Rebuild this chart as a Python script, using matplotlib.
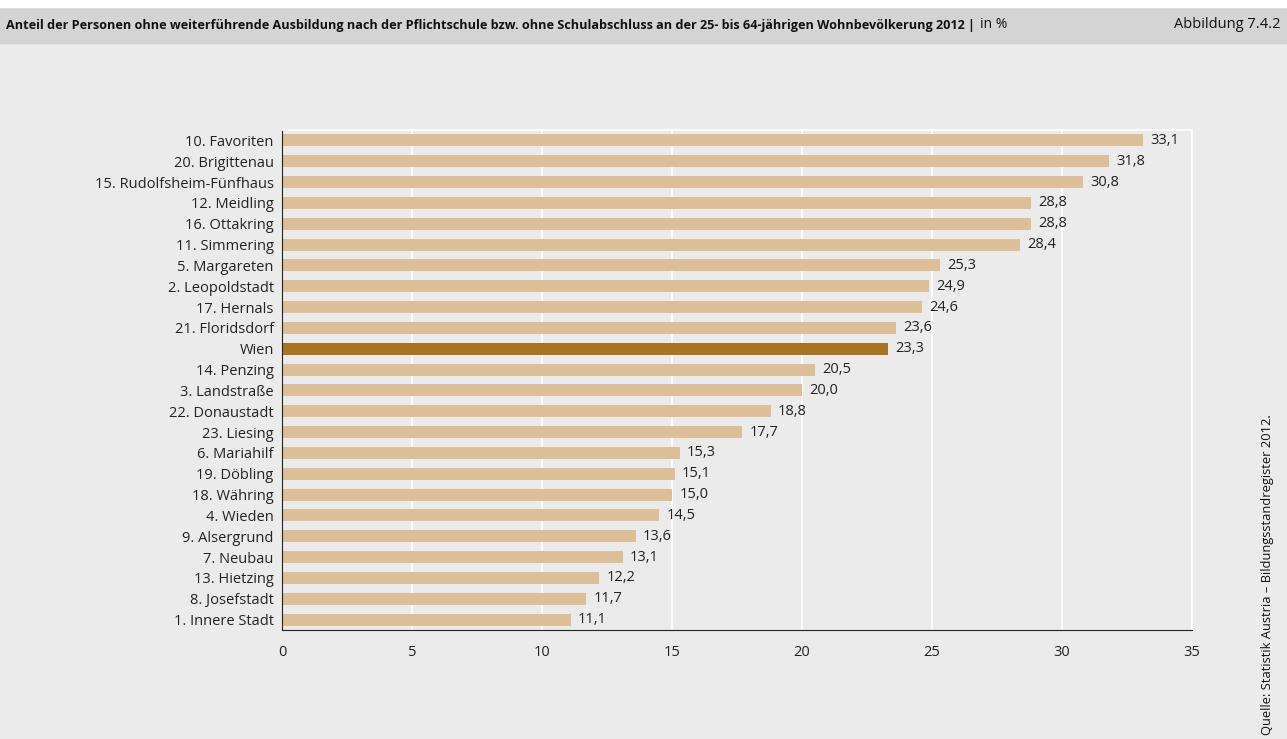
import matplotlib.pyplot as plt
from matplotlib import font_manager
from matplotlib.font_manager import FontProperties

# data
bezirke = ["10. Favoriten", "20. Brigittenau", "15. Rudolfsheim-Fünfhaus", "12. Meidling",
           "16. Ottakring", "11. Simmering", "5. Margareten", "2. Leopoldstadt",
           "17. Hernals", "21. Floridsdorf", "Wien", "14. Penzing", "3. Landstraße",
           "22. Donaustadt", "23. Liesing", "6. Mariahilf", "19. Döbling", "18. Währing",
           "4. Wieden", "9. Alsergrund", "7. Neubau", "13. Hietzing", "8. Josefstadt",
           "1. Innere Stadt"]
anteil = [33.1, 31.8, 30.8, 28.8, 28.8, 28.4, 25.3, 24.9, 24.6, 23.6, 23.3, 20.5, 20.0,
          18.8, 17.7, 15.3, 15.1, 15.0, 14.5, 13.6, 13.1, 12.2, 11.7, 11.1]
xticks = [0, 5, 10, 15, 20, 25, 30, 35]

titel = ("Anteil der Personen ohne weiterführende Ausbildung nach der Pflichtschule bzw. ohne "
         "Schulabschluss an der 25- bis 64-jährigen Wohnbevölkerung 2012 |")

# condensed face if there is one
stretch = "normal"
if "Condensed" in font_manager.findfont(FontProperties(family="DejaVu Sans", stretch="condensed")):
    stretch = "condensed"

plt.rcParams['font.family'] = ['Open Sans', 'DejaVu Sans']

bg = "#ebebeb"
fig = plt.figure(figsize=(12.87, 7.39), dpi=100, facecolor=bg)

# header band
fig.patches.append(plt.Rectangle((0, 1 - 43 / 739), 1, 36 / 739, transform=fig.transFigure,
                                 color="#d4d4d4", zorder=0))
fig.patches.append(plt.Rectangle((0, 1 - 7 / 739), 1, 7 / 739, transform=fig.transFigure,
                                 color="white", zorder=0))
ty = 1 - 25 / 739
t = fig.text(6 / 1287, ty, titel, fontsize=10.5, fontweight="bold", fontstretch=stretch,
             va="center", ha="left", color="#111111")
fig.canvas.draw()
r = fig.canvas.get_renderer()
w = t.get_window_extent(r).width
fs = 10.5 * min(1.0, (975 - 6) / w)
t.set_fontsize(fs)
fig.canvas.draw()
bb = t.get_window_extent(r)
fig.text((bb.x1 + 5) / 1287, ty, "in %", fontsize=10, va="center",
         ha="left", color="#111111")
fig.text(1280 / 1287, ty, "Abbildung 7.4.2", fontsize=10.5,
         va="center", ha="right", color="#111111")

fig.text(1268 / 1287, 1 - 735 / 739, "Quelle: Statistik Austria – Bildungsstandregister 2012.",
         rotation=90, fontsize=9.3, ha="center", va="bottom", color="#111111")

ax = fig.add_axes([282 / 1287, 1 - 630 / 739, (1192 - 282) / 1287, 500 / 739])
ax.set_facecolor(bg)
ypos = list(range(len(bezirke)))
colors = ["#a87424" if b == "Wien" else "#dcbf98" for b in bezirke]
ax.barh(ypos, anteil, height=0.58, color=colors, zorder=2)
for y, v in zip(ypos, anteil):
    ax.text(v + 0.28, y, f"{v:.1f}".replace(".", ","), va="center", ha="left",
            fontsize=10.5, color="#222222")

ax.set_xlim(0, 35)
ax.set_ylim(len(bezirke) - 0.5, -0.5)
ax.set_yticks(ypos)
ax.set_yticklabels(bezirke, fontsize=10.5, color="#222222")
ax.set_xticks(xticks)
ax.set_xticklabels([str(x) for x in xticks], fontsize=10.5, color="#222222")
ax.tick_params(length=0, pad=6)
ax.tick_params(axis="x", pad=11)
ax.xaxis.grid(True, color="white", linewidth=1.2, zorder=1)
ax.set_axisbelow(True)
for s in ["top", "right"]:
    ax.spines[s].set_color("white")
    ax.spines[s].set_linewidth(1.2)
ax.spines["left"].set_color("#222222")
ax.spines["bottom"].set_color("#222222")

fig.savefig("out.png", dpi=100, facecolor=bg)
